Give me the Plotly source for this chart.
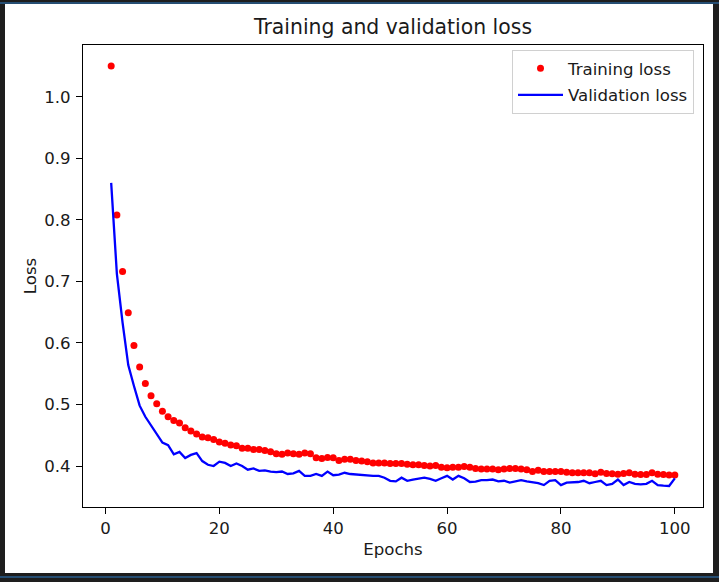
import plotly.graph_objects as go

epochs = list(range(1, 101))

training_loss = [
    1.050, 0.808, 0.716, 0.649, 0.596, 0.561, 0.534, 0.514, 0.501, 0.489,
    0.480, 0.474, 0.470, 0.462, 0.457, 0.452, 0.447, 0.446, 0.443, 0.439,
    0.437, 0.434, 0.433, 0.429, 0.429, 0.427, 0.427, 0.425, 0.423, 0.420,
    0.419, 0.421, 0.420, 0.419, 0.421, 0.420, 0.4135, 0.412, 0.414, 0.4135,
    0.409, 0.411, 0.411, 0.409, 0.408, 0.407, 0.405, 0.405, 0.405, 0.404,
    0.404, 0.404, 0.403, 0.402, 0.402, 0.401, 0.400, 0.401, 0.398, 0.397,
    0.398, 0.398, 0.399, 0.398, 0.396, 0.395, 0.395, 0.395, 0.394, 0.395,
    0.396, 0.396, 0.395, 0.394, 0.391, 0.393, 0.391, 0.391, 0.391, 0.391,
    0.390, 0.389, 0.389, 0.389, 0.389, 0.3875, 0.390, 0.388, 0.3875, 0.3865,
    0.388, 0.389, 0.3865, 0.386, 0.386, 0.389, 0.3865, 0.386, 0.3855, 0.3855,
]

validation_loss = [
    0.860, 0.712, 0.633, 0.564, 0.530, 0.498, 0.480, 0.466, 0.450, 0.438,
    0.434, 0.419, 0.423, 0.413, 0.418, 0.421, 0.408, 0.402, 0.400, 0.407,
    0.405, 0.400, 0.404, 0.400, 0.394, 0.396, 0.392, 0.393, 0.391, 0.390,
    0.391, 0.387, 0.388, 0.392, 0.384, 0.384, 0.387, 0.384, 0.391, 0.385,
    0.386, 0.389, 0.387, 0.386, 0.385, 0.384, 0.384, 0.384, 0.381, 0.376,
    0.375, 0.381, 0.376, 0.378, 0.379, 0.381, 0.379, 0.376, 0.380, 0.384,
    0.378, 0.384, 0.380, 0.374, 0.3745, 0.377, 0.377, 0.378, 0.375, 0.376,
    0.373, 0.375, 0.377, 0.375, 0.374, 0.372, 0.369, 0.376, 0.377, 0.369,
    0.373, 0.373, 0.374, 0.376, 0.372, 0.374, 0.376, 0.369, 0.371, 0.378,
    0.369, 0.374, 0.371, 0.370, 0.371, 0.376, 0.369, 0.368, 0.3675, 0.380,
]

x_tick_vals = [0, 20, 40, 60, 80, 100]
y_tick_vals = [0.4, 0.5, 0.6, 0.7, 0.8, 0.9, 1.0]

# ---- layout geometry (pixels) ----
W, H = 719, 582
L, R, T, B = 83, 16, 45, 75
PW, PH = W - L - R, H - T - B

def px_x(p):
    return (p - L) / PW

def px_y(p):
    return (H - B - p) / PH

FONT = "DejaVu Sans"
TXT = "#1a1a1a"
FS = 16.6
TFS = 20.4

# matplotlib-like autoscale margins
all_y = training_loss + validation_loss
lo, hi = min(all_y), max(all_y)
pad = 0.05 * (hi - lo)
xpad = 0.05 * (max(epochs) - min(epochs))

fig = go.Figure()
fig.add_trace(go.Scatter(
    x=epochs, y=training_loss, mode="markers", name="Training loss",
    marker=dict(color="#ff0000", size=7, line=dict(width=0)),
    legendgroup="t",
))
fig.add_trace(go.Scatter(
    x=epochs, y=validation_loss, mode="lines", name="Validation loss",
    line=dict(color="#0000ff", width=2.3),
    legendgroup="v",
))

shapes = [
    dict(type="rect", xref="paper", yref="paper", layer="below",
         x0=px_x(5), x1=px_x(713), y0=px_y(573), y1=px_y(4),
         fillcolor="white", line=dict(width=0)),
    dict(type="line", xref="paper", yref="paper", layer="below",
         x0=px_x(0), x1=px_x(719), y0=px_y(3), y1=px_y(3),
         line=dict(color="#2f7fc8", width=1)),
    dict(type="line", xref="paper", yref="paper", layer="below",
         x0=px_x(0), x1=px_x(719), y0=px_y(577), y1=px_y(577),
         line=dict(color="#2f7fc8", width=1)),
]

fig.update_layout(
    width=W, height=H, autosize=False,
    margin=dict(l=L, r=R, t=T, b=B, pad=0),
    paper_bgcolor="#1e1e1e",
    plot_bgcolor="white",
    shapes=shapes,
    title=dict(text="Training and validation loss", x=(L + PW / 2) / W, xanchor="center",
               y=1 - 27 / H, yanchor="middle", yref="container",
               font=dict(family=FONT, size=TFS, color=TXT)),
    font=dict(family=FONT, color=TXT),
    showlegend=True,
    legend=dict(
        x=px_x(694), xanchor="right", y=px_y(50), yanchor="top",
        bgcolor="rgba(255,255,255,0.8)", bordercolor="#d0d0d0", borderwidth=1,
        font=dict(family=FONT, size=FS, color=TXT),
        tracegroupgap=2, itemwidth=45,
    ),
    xaxis=dict(
        range=[min(epochs) - xpad, max(epochs) + xpad],
        tickmode="array", tickvals=x_tick_vals,
        ticks="outside", ticklen=6, tickwidth=1.1, tickcolor="black",
        showline=True, linecolor="black", linewidth=1.1, mirror=True,
        showgrid=False, zeroline=False,
        tickfont=dict(family=FONT, size=FS, color=TXT),
        title=dict(text="Epochs", font=dict(family=FONT, size=FS, color=TXT), standoff=6),
    ),
    yaxis=dict(
        range=[lo - pad, hi + pad],
        tickmode="array", tickvals=y_tick_vals, tickformat=".1f",
        ticks="outside", ticklen=6, tickwidth=1.1, tickcolor="black",
        ticklabelstandoff=2,
        showline=True, linecolor="black", linewidth=1.1, mirror=True,
        showgrid=False, zeroline=False,
        tickfont=dict(family=FONT, size=FS, color=TXT),
        title=dict(text="Loss", font=dict(family=FONT, size=FS, color=TXT), standoff=3),
    ),
)

fig.write_html(
    "out.html",
    config={"displayModeBar": False},
    post_script="document.body.style.margin='0px';document.body.style.background='#1e1e1e';",
)
